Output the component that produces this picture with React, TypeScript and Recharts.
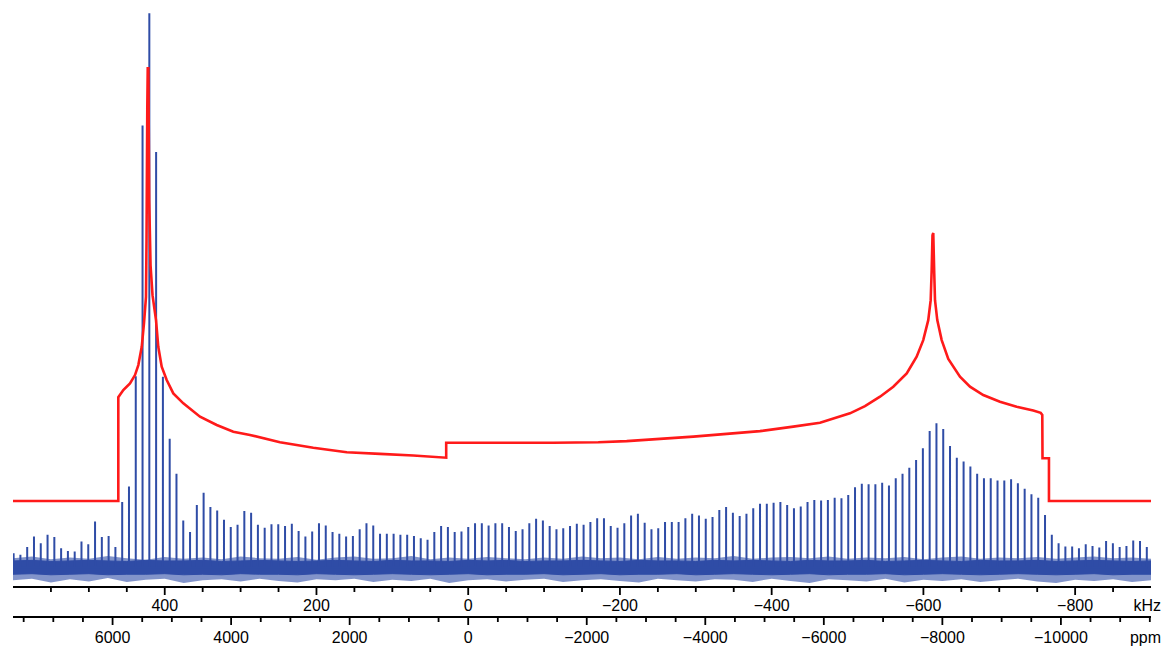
import { ComposedChart, Line, Area, XAxis, YAxis } from "recharts";

// spinning sidebands (kHz): order 0 sits on the tall peak
const sidebandCentre = 420.3;
const spinRate = 8.944;
const firstOrder = -20;
const sidebandHeights = [
  2.1, 1.8, 3.2, 5.1, 3.9, 5.4, 5.0, 3.0, 2.5, 2.4, 4.2, 3.7, 7.8, 5.0, 5.2, 3.2, 11.3, 14.1, 34.0, 79.2,
  99.4, 74.4, 33.9, 22.7, 16.4, 8.0, 5.9, 10.8, 13.0, 10.4, 9.8, 8.1, 6.8, 7.2, 9.7, 9.4, 7.2, 6.7, 7.3, 7.3,
  7.0, 7.4, 6.1, 5.1, 6.0, 7.5, 7.1, 5.9, 5.6, 5.1, 5.2, 6.4, 7.5, 7.1, 5.6, 5.6, 5.6, 5.4, 5.4, 5.2,
  4.8, 4.5, 5.9, 7.0, 6.8, 5.9, 6.0, 6.8, 7.5, 7.5, 7.1, 7.5, 7.5, 6.8, 6.1, 6.4, 7.5, 8.3, 8.0, 7.0,
  6.4, 6.6, 7.0, 7.4, 7.2, 7.7, 8.4, 8.4, 7.0, 6.7, 7.5, 8.9, 9.2, 7.6, 6.4, 6.6, 7.7, 7.7, 7.7, 8.4,
  9.2, 8.9, 8.3, 8.6, 9.9, 10.4, 9.4, 8.8, 9.2, 10.2, 11.0, 11.0, 11.2, 11.3, 10.8, 10.2, 10.5, 11.3, 11.7, 11.6,
  11.7, 12.1, 12.0, 12.6, 14.0, 14.6, 14.5, 14.5, 14.8, 14.3, 15.6, 16.4, 17.5, 18.9, 21.0, 24.1, 25.5, 24.5, 21.4, 19.3,
  18.6, 17.7, 16.4, 15.6, 15.6, 15.2, 15.2, 15.4, 14.7, 13.7, 12.7, 12.1, 9.0, 5.4, 3.9, 3.3, 3.3, 3.0, 3.7, 3.4,
  3.1, 4.3, 3.9, 3.2, 3.4, 4.4, 4.3, 3.2,
];
const stickBase = -0.5;

// simulated static pattern (red)
const redFreq = [
  600, 461.2, 461.2, 454.6, 445.8, 439.2, 434.8, 430.3, 427.3, 424.7,
  424.0, 423.0, 422.4, 421.6, 420.5, 418.7, 416.1, 411.5, 408.5, 404.0,
  397.4, 388.7, 375.5, 353.5, 331.5, 309.6, 287.6, 248.1, 204.2, 160.1,
  116.3, 72.4, 29.0, 29.0, -2.4, -59.4, -112.2, -171.5, -208.9, -252.8,
  -296.7, -340.7, -384.6, -428.5, -463.7, -503.2, -523.0, -542.8, -560.3, -578.0,
  -591.1, -599.8, -606.4, -609.6, -610.9, -612.0, -613.0, -614.3, -615.3, -618.3,
  -624.1, -632.8, -648.2, -661.4, -678.9, -700.9, -722.9, -744.8, -754.6, -756.7,
  -757.0, -765.5, -765.5, -900,
];
const redLevel = [
  11.5, 11.5, 30.2, 31.5, 32.7, 34.2, 36.0, 39.3, 43.6, 48.3,
  58.5, 82.0, 89.5, 89.5, 65.8, 54.0, 48.6, 44.1, 39.3, 35.7,
  33.3, 30.9, 29.1, 26.7, 25.2, 24.0, 23.4, 22.1, 21.1, 20.3,
  20.0, 19.7, 19.3, 22.0, 22.0, 22.0, 22.0, 22.1, 22.3, 22.7,
  23.1, 23.6, 24.1, 24.9, 25.6, 27.3, 28.6, 30.3, 32.1, 34.5,
  37.5, 40.5, 44.1, 47.7, 53.1, 59.4, 59.8, 52.5, 47.7, 44.1,
  40.5, 37.1, 33.9, 32.1, 30.6, 29.4, 28.5, 27.8, 27.4, 27.0,
  19.2, 19.2, 11.5, 11.5,
];

// noise floor, every 25 kHz from 600 down to -900: dense core and spiky fringe
const noiseStart = 600;
const noiseStep = 25;
const coreHi = [
  0.7, 0.8, 0.6, 0.7, 0.8, 0.7, 0.6, 0.8, 0.7, 0.7,
  0.8, 0.6, 0.7, 0.8, 0.7, 0.6, 0.7, 0.8, 0.7, 0.6,
  0.8, 0.7, 0.7, 0.6, 0.8, 0.7, 0.8, 0.6, 0.7, 0.7,
  0.8, 0.7, 0.6, 0.8, 0.7, 0.7, 0.6, 0.8, 0.7, 0.8,
  0.7, 0.6, 0.8, 0.7, 0.7, 0.8, 0.6, 0.7, 0.8, 0.7,
  0.6, 0.8, 0.7, 0.7, 0.8, 0.6, 0.7, 0.8, 0.7, 0.6,
  0.7,
];
const coreLo = [
  -1.7, -1.6, -1.8, -1.7, -1.6, -1.8, -1.7, -1.7, -1.6, -1.8,
  -1.7, -1.8, -1.6, -1.7, -1.7, -1.8, -1.6, -1.7, -1.8, -1.7,
  -1.6, -1.7, -1.8, -1.7, -1.6, -1.8, -1.7, -1.7, -1.6, -1.8,
  -1.7, -1.6, -1.8, -1.7, -1.7, -1.6, -1.8, -1.7, -1.6, -1.7,
  -1.8, -1.7, -1.6, -1.8, -1.7, -1.7, -1.6, -1.8, -1.7, -1.6,
  -1.7, -1.8, -1.7, -1.6, -1.7, -1.8, -1.7, -1.6, -1.8, -1.7,
  -1.7,
];
const peakHi = [
  1.2, 1.5, 1.0, 1.3, 1.1, 1.6, 1.2, 0.9, 1.4, 1.1,
  1.3, 1.0, 1.5, 1.2, 1.1, 1.4, 0.9, 1.3, 1.5, 1.1,
  1.2, 1.6, 1.0, 1.3, 1.1, 1.4, 1.2, 1.0, 1.3, 1.1,
  1.5, 1.2, 1.3, 1.0, 1.4, 1.1, 1.3, 1.2, 1.6, 1.1,
  1.3, 1.4, 1.2, 1.5, 1.1, 1.3, 1.2, 1.4, 1.0, 1.3,
  1.5, 1.1, 1.3, 1.2, 1.4, 1.1, 1.3, 1.5, 1.2, 1.3,
  1.1,
];
const peakLo = [
  -2.8, -2.5, -3.2, -2.6, -3.0, -2.4, -3.1, -2.7, -2.5, -3.3,
  -2.8, -2.6, -3.0, -2.5, -2.9, -3.2, -2.6, -2.8, -2.5, -3.1,
  -2.7, -2.9, -2.5, -3.3, -2.8, -2.6, -3.0, -2.7, -2.5, -3.1,
  -2.8, -2.6, -2.9, -3.2, -2.5, -2.8, -3.0, -2.6, -2.7, -3.1,
  -2.5, -2.9, -3.3, -2.6, -2.8, -3.0, -2.5, -3.2, -2.7, -2.9,
  -2.6, -3.1, -2.8, -2.5, -3.0, -3.3, -2.7, -2.9, -2.6, -3.1,
  -2.8,
];

const khzTicks = [
  550, 500, 450, 400, 350, 300, 250, 200, 150, 100, 50, 0, -50, -100, -150,
  -200, -250, -300, -350, -400, -450, -500, -550, -600, -650, -700, -750, -800, -850,
];
const ppmTicks = [
  7500, 7000, 6500, 6000, 5500, 5000, 4500, 4000, 3500, 3000, 2500, 2000, 1500, 1000, 500, 0,
  -500, -1000, -1500, -2000, -2500, -3000, -3500, -4000, -4500, -5000, -5500, -6000, -6500,
  -7000, -7500, -8000, -8500, -9000, -9500, -10000, -10500, -11000, -11500,
];
const ppmRange = [7680, -11520];

const BLUE = "#2f4ca6";
const RED = "#ff1a1a";
const FONT = "'Liberation Sans', Arial, sans-serif";

const stickRows = sidebandHeights.flatMap((h, i) => {
  const f = sidebandCentre - (firstOrder + i) * spinRate;
  return [
    { f, v: stickBase },
    { f, v: h },
    { f, v: stickBase },
  ];
});
const redRows = redFreq.map((f, i) => ({ f, v: redLevel[i] }));
const noiseRows = coreHi.map((hi, i) => ({
  f: noiseStart - i * noiseStep,
  core: [coreLo[i], hi],
  fringe: [peakLo[i], peakHi[i]],
}));
const ppmRows = ppmRange.map((p) => ({ p, v: -4 }));

const fmt = (v: number) => (v < 0 ? "\u2212" + Math.abs(v) : String(Math.abs(v)));

function AxisTick(props: any) {
  const { x, y, payload, every, dy } = props;
  const value = payload.value;
  const major = value % every === 0;
  return (
    <g>
      <line x1={x} x2={x} y1={y} y2={y + (major ? 8 : 5)} stroke="#000" strokeWidth={1.8} />
      {major && (
        <text x={x} y={y + dy} textAnchor="middle" fontSize={16} fontFamily={FONT} fill="#000">
          {fmt(value)}
        </text>
      )}
    </g>
  );
}

export default function App() {
  return (
    <div style={{ position: "absolute", left: 0, top: 0, width: 1163, height: 648, background: "#fff" }}>
      <ComposedChart width={1163} height={648} data={stickRows} margin={{ top: 10, right: 12, bottom: 0, left: 13 }}>
        <XAxis
          xAxisId="khz"
          type="number"
          dataKey="f"
          domain={[-900, 600]}
          reversed
          allowDataOverflow
          ticks={khzTicks}
          interval={0}
          height={30}
          tickSize={0}
          tickMargin={0}
          tickLine={false}
          axisLine={{ stroke: "#000", strokeWidth: 1.8 }}
          tick={<AxisTick every={200} dy={24} />}
        />
        <XAxis
          xAxisId="ppm"
          type="number"
          dataKey="p"
          domain={[-11520, 7680]}
          reversed
          allowDataOverflow
          ticks={ppmTicks}
          interval={0}
          height={31}
          tickSize={0}
          tickMargin={0}
          tickLine={false}
          axisLine={{ stroke: "#000", strokeWidth: 1.8 }}
          tick={<AxisTick every={2000} dy={26} />}
        />
        <YAxis hide type="number" domain={[-4, 100]} allowDataOverflow />
        <Line
          xAxisId="ppm"
          data={ppmRows}
          dataKey="v"
          stroke="none"
          dot={false}
          activeDot={false}
          isAnimationActive={false}
        />
        <Area
          xAxisId="khz"
          data={noiseRows}
          dataKey="fringe"
          type="linear"
          stroke="none"
          fill={BLUE}
          fillOpacity={0.6}
          isAnimationActive={false}
        />
        <Area
          xAxisId="khz"
          data={noiseRows}
          dataKey="core"
          type="linear"
          stroke={BLUE}
          strokeWidth={1}
          fill={BLUE}
          fillOpacity={1}
          isAnimationActive={false}
        />
        <Line
          xAxisId="khz"
          data={stickRows}
          dataKey="v"
          type="linear"
          stroke={BLUE}
          strokeWidth={2}
          dot={false}
          isAnimationActive={false}
        />
        <Line
          xAxisId="khz"
          data={redRows}
          dataKey="v"
          type="linear"
          stroke={RED}
          strokeWidth={2.6}
          dot={false}
          isAnimationActive={false}
        />
      </ComposedChart>
      <svg width={1163} height={648} style={{ position: "absolute", left: 0, top: 0, pointerEvents: "none" }}>
        <text x={1161} y={611} textAnchor="end" fontSize={16} fontFamily={FONT} fill="#000">kHz</text>
        <text x={1161} y={643} textAnchor="end" fontSize={16} fontFamily={FONT} fill="#000">ppm</text>
      </svg>
    </div>
  );
}
